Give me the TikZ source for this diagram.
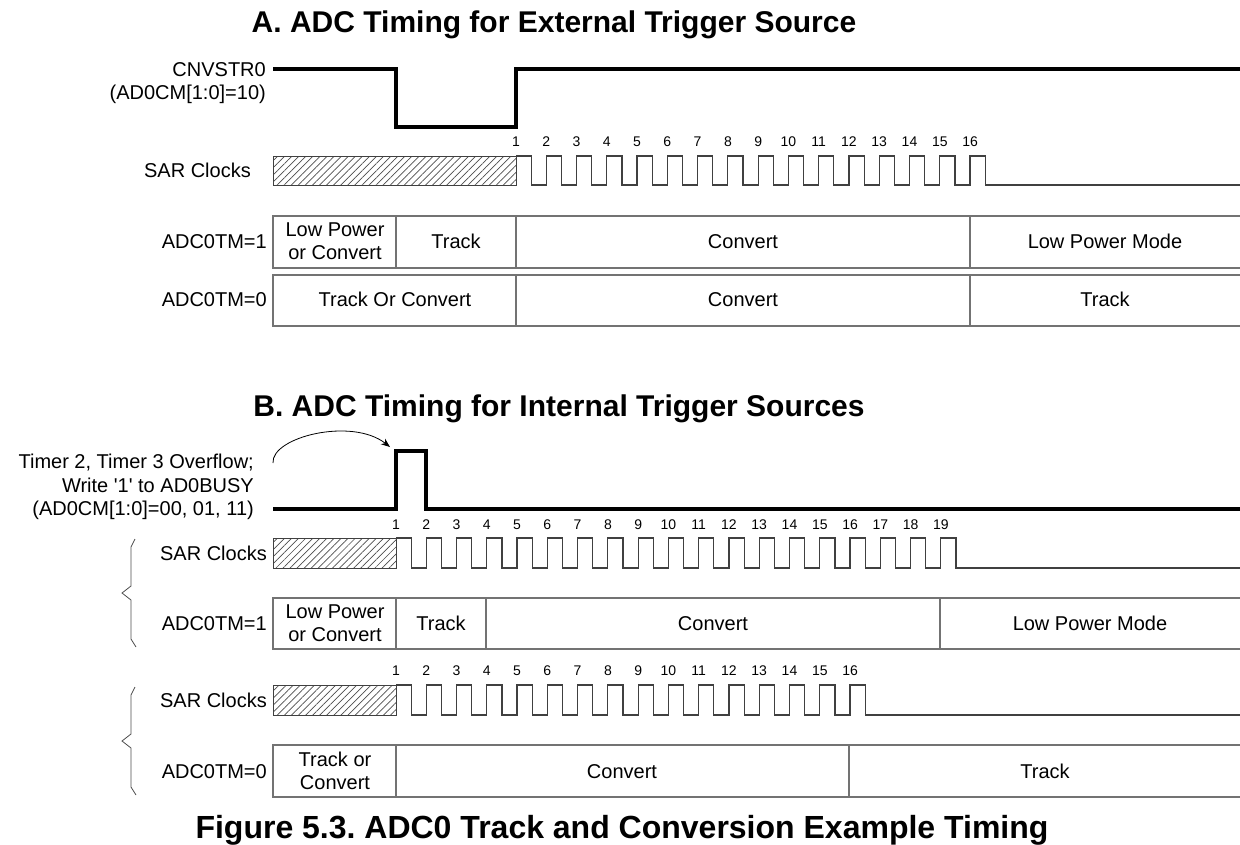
\documentclass[tikz,border=0pt]{standalone}
\usepackage{fontspec}
\setmainfont{Liberation Sans}
\usetikzlibrary{positioning,patterns.meta,arrows.meta}
\frenchspacing

\begin{document}
\begin{tikzpicture}[x=1pt,y=-1pt,
    wave/.style={line width=3.2pt, line join=miter},
    clk/.style={line width=1.2pt, draw=black!75},
    cell/.style={draw=black!55, line width=1.3pt},
    hatch/.style={draw=black!75, line width=1pt, pattern={Lines[angle=45,distance=5pt,line width=0.7pt]}, pattern color=black!70},
    txt/.style={font=\fontsize{20}{23}\selectfont, inner sep=0pt, align=center},
    one/.style={txt, text height=14.3pt, text depth=0pt},
    num/.style={font=\fontsize{14}{16}\selectfont, inner sep=0pt, text height=10pt, text depth=0pt},
    ttl/.style={font=\bfseries\fontsize{30}{34}\selectfont, inner sep=0pt, anchor=base},
    brace/.style={line width=0.8pt, draw=black!70}]
    \path[use as bounding box] (0,0) rectangle (1240,844);

    % A. external trigger
    \node[ttl] (titleA) at (554,32) {A. ADC Timing for External Trigger Source};
    \draw[wave] (273,69) -- (396,69) -- (396,127) -- (516,127) -- (516,69) -- (1240,69);
    \node[txt, anchor=east, align=right] (cnvstr) at (266,83) {CNVSTR0\\(AD0CM[1:0]=10)};

    \coordinate (clkA) at (273,170);
    \node[one, left=22pt of clkA] (sarA) {SAR Clocks};
    \draw[hatch] (273,156) rectangle (516,185);
    \draw[clk] (516,156) \foreach \k in {1,...,15} {-- ++(15.135,0) -- ++(0,29) -- ++(15.135,0) -- ++(0,-29)}
        -- ++(15.135,0) -- ++(0,29) -- (1240,185);
    \foreach \k in {1,...,16} \node[num] (numA\k) at ({516+(\k-1)*30.27},141) {\k};

    \coordinate (rowA1) at (273,241);
    \node[one, left=6pt of rowA1] (labA1) {ADC0TM=1};
    \draw[cell] (273,216) rectangle (1250,268);
    \draw[cell] (396,216) -- (396,268) (516,216) -- (516,268) (970,216) -- (970,268);
    \node[txt] (a1lp) at (335,241) {Low Power\\or Convert};
    \node[one] (a1tr) at (456,241) {Track};
    \node[one] (a1cv) at (743,241) {Convert};
    \node[one] (a1lm) at (1105,241) {Low Power Mode};

    \coordinate (rowA0) at (273,299);
    \node[one, left=6pt of rowA0] (labA0) {ADC0TM=0};
    \draw[cell] (273,275) rectangle (1250,326);
    \draw[cell] (516,275) -- (516,326) (970,275) -- (970,326);
    \node[one] (a0tc) at (395,299) {Track Or Convert};
    \node[one] (a0cv) at (743,299) {Convert};
    \node[one] (a0tr) at (1105,299) {Track};

    % B. internal trigger
    \node[ttl] (titleB) at (559,416) {B. ADC Timing for Internal Trigger Sources};
    \draw[wave] (273,509) -- (396,509) -- (396,451) -- (426,451) -- (426,509) -- (1240,509);
    \node[txt, anchor=east, align=right, font=\fontsize{20}{23.5}\selectfont] (trig) at (254,487)
        {Timer 2, Timer 3 Overflow;\\Write \textquotesingle 1\textquotesingle\ to AD0BUSY\\(AD0CM[1:0]=00, 01, 11)};
    \coordinate (arrS) at (273,463);
    \coordinate (arrE) at (390,447);
    \draw[-{Stealth[length=9pt,width=7pt]}, line width=0.8pt] (arrS) .. controls (271,437) and (352,417) .. (arrE);

    \coordinate (clkB1) at (273,553);
    \node[one, left=6pt of clkB1] (sarB1) {SAR Clocks};
    \draw[hatch] (273,538) rectangle (396,568);
    \draw[clk] (396,538) \foreach \k in {1,...,18} {-- ++(15.135,0) -- ++(0,30) -- ++(15.135,0) -- ++(0,-30)}
        -- ++(15.135,0) -- ++(0,30) -- (1240,568);
    \foreach \k in {1,...,19} \node[num] (numB\k) at ({396+(\k-1)*30.27},524) {\k};

    \coordinate (rowB1) at (273,623);
    \node[one, left=6pt of rowB1] (labB1) {ADC0TM=1};
    \draw[cell] (273,598) rectangle (1250,649);
    \draw[cell] (396,598) -- (396,649) (486,598) -- (486,649) (940,598) -- (940,649);
    \node[txt] (b1lp) at (335,623) {Low Power\\or Convert};
    \node[one] (b1tr) at (441,623) {Track};
    \node[one] (b1cv) at (713,623) {Convert};
    \node[one] (b1lm) at (1090,623) {Low Power Mode};

    \coordinate (clkB0) at (273,700);
    \node[one, left=6pt of clkB0] (sarB0) {SAR Clocks};
    \draw[hatch] (273,685) rectangle (396,715);
    \draw[clk] (396,685) \foreach \k in {1,...,15} {-- ++(15.135,0) -- ++(0,30) -- ++(15.135,0) -- ++(0,-30)}
        -- ++(15.135,0) -- ++(0,30) -- (1240,715);
    \foreach \k in {1,...,16} \node[num] (numC\k) at ({396+(\k-1)*30.27},670) {\k};

    \coordinate (rowB0) at (273,771);
    \node[one, left=6pt of rowB0] (labB0) {ADC0TM=0};
    \draw[cell] (273,745) rectangle (1250,797);
    \draw[cell] (396,745) -- (396,797) (849,745) -- (849,797);
    \node[txt] (b0tc) at (335,771) {Track or\\Convert};
    \node[one] (b0cv) at (622,771) {Convert};
    \node[one] (b0tr) at (1045,771) {Track};

    % braces
    \draw[brace] (135,539) -- (131,547) -- (131,586) -- (122,593) -- (131,600) -- (131,639) -- (136,647);
    \draw[brace] (135,687) -- (131,695) -- (131,734) -- (122,741) -- (131,748) -- (131,787) -- (136,795);

    \node[font=\bfseries\fontsize{32}{36}\selectfont, inner sep=0pt, anchor=base] (caption) at (622,838)
        {Figure 5.3. ADC0 Track and Conversion Example Timing};
\end{tikzpicture}
\end{document}
